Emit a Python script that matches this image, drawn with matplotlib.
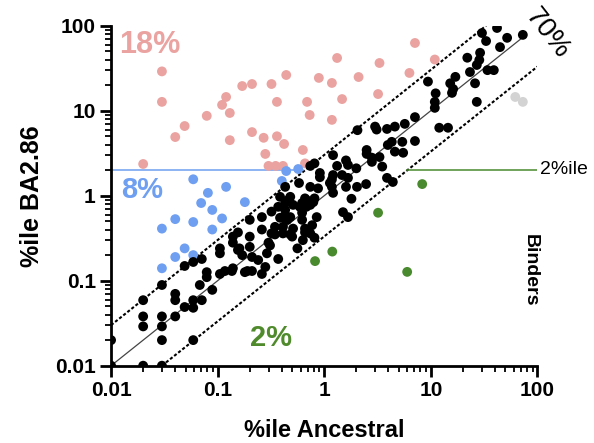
import numpy as np
import matplotlib.pyplot as plt
from matplotlib.ticker import LogLocator, NullFormatter, FixedLocator

plt.rcParams['font.family'] = ['Liberation Sans', 'DejaVu Sans']

# ------------------------
# Data (percentiles)
# ------------------------
# strongly reduced binding (above the 2%ile line, ancestral binders)
pink_x = [0.03, 0.03, 0.02, 0.04, 0.049, 0.079, 0.11, 0.12, 0.13, 0.13,
          0.17, 0.21, 0.21, 0.27, 0.28, 0.30, 0.32, 0.36, 0.36, 0.35,
          0.42, 0.44, 0.63, 0.66, 0.69, 7.1, 1.32, 3.3, 10.9, 0.89,
          1.18, 2.1, 6.3, 1.47, 3.2, 0.73, 1.18, 0.41]
pink_y = [29, 12.7, 2.36, 4.9, 6.6, 8.7, 11.7, 14.5, 9.4, 4.5,
          19.5, 20.6, 5.6, 4.8, 3.1, 2.24, 20.6, 12.7, 5.0, 2.24,
          4.06, 26.3, 3.45, 2.4, 12.7, 62.6, 41.7, 36.4, 40, 24.3,
          21.2, 24.9, 27.8, 13.7, 15.7, 8.9, 7.8, 2.24]

# reduced but still binders
blue_x = [0.059, 0.081, 0.12, 0.18, 0.070, 0.089, 0.11, 0.040, 0.059, 0.030,
          0.089, 0.049, 0.040, 0.059, 0.030, 0.44, 0.57, 0.40]
blue_y = [1.56, 1.08, 1.27, 0.84, 0.82, 0.68, 0.54, 0.53, 0.49, 0.41,
          0.40, 0.24, 0.19, 0.20, 0.14, 1.95, 2.06, 1.49]

# improved binding
green_x = [8.3, 3.2, 1.19, 0.82, 6.0]
green_y = [1.37, 0.63, 0.22, 0.17, 0.127]

# non binders in both
grey_x = [62, 73]
grey_y = [14.5, 12.7]

# within 3-fold of ancestral
black_x = [0.01, 0.01, 0.02, 0.03, 0.02, 0.02, 0.02, 0.03, 0.03, 0.03,
           0.03, 0.04, 0.04, 0.04, 0.049, 0.049, 0.059, 0.059, 0.059, 0.059,
           0.071, 0.071, 0.068, 0.079, 0.079, 0.089, 0.105, 0.105, 0.117, 0.136,
           0.139, 0.139, 0.155, 0.16, 0.17, 0.20, 0.21, 0.19, 0.21,
           1.21, 0.81, 0.74, 1.32, 1.6, 0.91, 1.21, 0.43, 0.58, 0.74,
           0.875, 1.18, 1.21, 1.6, 0.385, 0.46, 0.51, 0.68, 0.81, 0.59,
           0.43, 0.32, 0.385, 0.48, 0.62, 0.74, 0.85, 0.20, 0.26, 0.345,
           0.41, 0.51, 0.66, 0.74, 0.81, 0.345, 0.48, 0.63, 0.56, 0.37,
           0.155, 0.20, 0.31, 0.29, 0.24, 0.28, 0.139, 0.18, 0.26, 1.5, 0.105,
           0.26, 0.32, 0.50, 0.41, 0.37, 0.48, 0.62, 0.62, 0.30, 0.91,
           1.18, 0.66, 0.68, 0.77, 0.66, 0.43, 0.45, 0.41, 3.5, 3.88,
           4.4, 2.47, 2.03, 1.8, 1.67,
           9.4, 11.1, 10.9, 10.9, 7.1, 5.7, 4.6, 3.88, 3.0, 3.1,
           2.05, 12.0, 14.5, 7.1, 5.4, 4.3, 3.95, 2.5, 4.6, 5.5,
           2.5, 2.8, 3.3, 1.67, 2.0, 2.8, 1.47, 1.67, 1.13, 0.79,
           41.8, 30.2, 33, 52, 73, 44.6, 29, 22, 28.5, 27,
           23.3, 34, 39, 17, 15.2, 16.2, 15.8, 26, 27]
black_y = [0.020, 0.01, 0.01, 0.01, 0.059, 0.038, 0.029, 0.089, 0.038, 0.029,
           0.020, 0.070, 0.059, 0.038, 0.149, 0.049, 0.166, 0.059, 0.048, 0.020,
           0.18, 0.059, 0.089, 0.126, 0.11, 0.078, 0.24, 0.21, 0.13, 0.13,
           0.33, 0.28, 0.37, 0.24, 0.20, 0.33, 0.19, 0.13, 0.13,
           3.0, 2.4, 2.24, 2.24, 2.6, 1.85, 1.75, 1.27, 1.41, 1.27,
           1.22, 1.27, 1.08, 1.27, 0.97, 0.89, 0.78, 0.89, 0.93, 0.74,
           0.68, 0.65, 0.55, 0.56, 0.63, 0.78, 0.56, 0.52, 0.40, 0.43,
           0.43, 0.41, 0.41, 0.36, 0.32, 0.35, 0.35, 0.30, 0.24, 0.18,
           0.23, 0.25, 0.26, 0.21, 0.175, 0.145, 0.14, 0.126, 0.12, 0.64, 0.12,
           0.56, 0.36, 0.33, 0.56, 0.74, 0.97, 0.82, 0.52, 0.28, 1.65,
           1.55, 0.93, 0.74, 0.45, 0.37, 0.82, 0.52, 0.36, 2.2, 1.62,
           1.45, 1.37, 1.27, 0.92, 0.56,
           22.0, 16, 12.7, 10.8, 8.4, 7.0, 6.5, 6.1, 6.5, 6.0,
           5.9, 6.3, 6.3, 4.4, 4.3, 4.3, 3.95, 3.45, 3.3, 3.2,
           3.1, 2.8, 2.85, 2.3, 2.1, 2.5, 1.75, 1.62, 1.41, 0.84,
           94, 82, 66, 72, 78, 56, 48, 42, 39.5, 34.5,
           28.5, 30, 30, 25, 21, 18, 16.2, 21, 12.7]

# guide lines (identity and 3-fold band)
center_x = [0.01, 76]
center_y = [0.01, 76]
upper_x = [0.01, 33]
upper_y = [0.03, 100]
lower_x = [0.03, 100]
lower_y = [0.01, 33]

# 2%ile binder threshold
thresh = 2
blue_seg_x = [0.01, 0.63]
green_seg_x = [6.0, 100]

tick_vals = [0.01, 0.1, 1, 10, 100]
tick_labels = ['0.01', '0.1', '1', '10', '100']

# ------------------------
# Plot
# ------------------------
fig = plt.figure(figsize=(5.94, 4.43), dpi=100)
ax = fig.add_axes([0.187, 0.1745, 0.7177, 0.7675])
ax.set_xscale('log')
ax.set_yscale('log')
ax.set_xlim(0.01, 100)
ax.set_ylim(0.01, 100)

ax.plot(center_x, center_y, color='#444444', lw=0.9, zorder=1)
ax.plot(upper_x, upper_y, color='black', lw=1.5, ls=(0, (1.5, 1.0)), zorder=1)
ax.plot(lower_x, lower_y, color='black', lw=1.5, ls=(0, (1.5, 1.0)), zorder=1)

ax.plot(blue_seg_x, [thresh, thresh], color='#6f9ff0', lw=1.1, zorder=1)
ax.plot(green_seg_x, [thresh, thresh], color='#4a8a2e', lw=1.1, zorder=1)

s = 50
ax.scatter(pink_x, pink_y, s=s, color='#eaa3a0', edgecolors='none', zorder=3)
ax.scatter(blue_x, blue_y, s=s, color='#6f9ff0', edgecolors='none', zorder=3)
ax.scatter(green_x, green_y, s=s, color='#4a8a2e', edgecolors='none', zorder=3)
ax.scatter(grey_x, grey_y, s=s, color='#d3d3d3', edgecolors='none', zorder=3)
ax.scatter(black_x, black_y, s=s, color='black', edgecolors='none', zorder=3)

# axes styling
for side in ['top', 'right']:
    ax.spines[side].set_visible(False)
for side in ['left', 'bottom']:
    ax.spines[side].set_linewidth(2)

for axis in [ax.xaxis, ax.yaxis]:
    axis.set_major_locator(FixedLocator(tick_vals))
    axis.set_minor_locator(LogLocator(base=10, subs=np.arange(2, 10)))
    axis.set_minor_formatter(NullFormatter())
ax.set_xticklabels(tick_labels, fontweight='bold')
ax.set_yticklabels(tick_labels, fontweight='bold')
ax.tick_params(which='major', length=8, width=2, labelsize=15, pad=3)
ax.tick_params(which='minor', length=4.5, width=1.3)

ax.set_xlabel('%ile Ancestral', fontsize=17, fontweight='bold', labelpad=14)
ax.set_ylabel('%ile BA2.86', fontsize=18, fontweight='bold', labelpad=8)

# annotations
ax.text(0.012, 59, '18%', color='#eaa3a0', fontsize=22, fontweight='bold',
        ha='left', va='center')
ax.text(0.0125, 1.17, '8%', color='#6f9ff0', fontsize=21, fontweight='bold',
        ha='left', va='center')
ax.text(0.2, 0.021, '2%', color='#4f8a2c', fontsize=21, fontweight='bold',
        ha='left', va='center')
ax.text(123, 80, '70%', color='black', fontsize=20,
        rotation=-52, ha='center', va='center', clip_on=False)
ax.text(0.893, 0.39, 'Binders', transform=fig.transFigure, fontsize=14,
        fontweight='bold', rotation=-90, ha='center', va='center')
ax.text(0.909, 1 - 170 / 443, '2%ile', transform=fig.transFigure, fontsize=14,
        ha='left', va='center')

fig.savefig('out.png', dpi=100)
